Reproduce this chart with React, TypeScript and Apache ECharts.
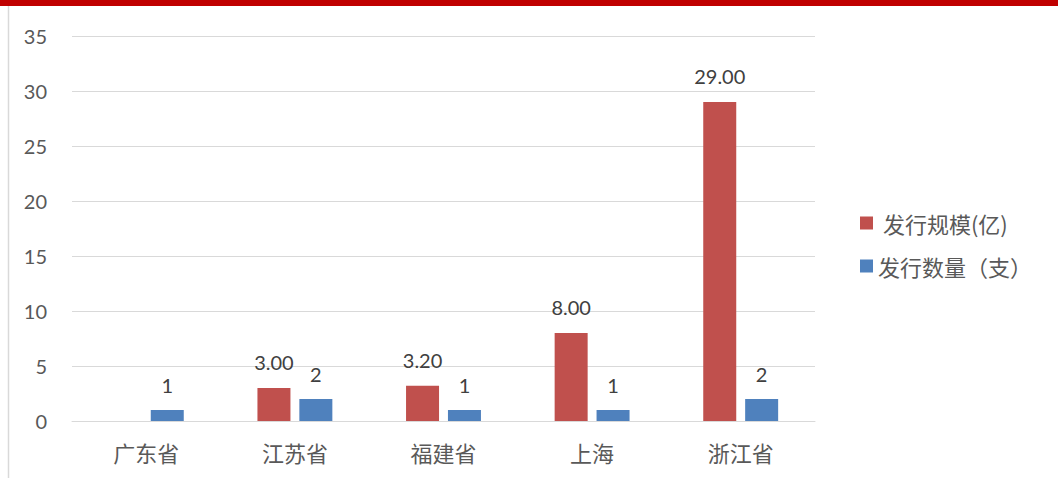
import React, { useEffect, useRef } from "react";
import * as echarts from "echarts";

const categories = ["广东省", "江苏省", "福建省", "上海", "浙江省"];
const scaleValues: (number | null)[] = [null, 3.0, 3.2, 8.0, 29.0];
const countValues = [1, 2, 1, 1, 2];
const seriesNames = ["发行规模(亿)", "发行数量（支）"];

const FONT = "Lato, 'Noto Sans CJK SC', sans-serif";
const CJK = "'Noto Sans CJK SC', sans-serif";

export default function App() {
  const ref = useRef<HTMLDivElement>(null);
  useEffect(() => {
    const chart = echarts.init(ref.current!, null, { renderer: "svg" });
    chart.setOption({
      animation: false,
      backgroundColor: "#ffffff",
      textStyle: { fontFamily: FONT },
      graphic: [
        { type: "rect", shape: { x: 0, y: 0, width: 1058, height: 6 }, style: { fill: "#c00000" } },
        { type: "line", shape: { x1: 8.5, y1: 6, x2: 8.5, y2: 478 }, style: { stroke: "#d9d9d9", lineWidth: 1.5 } },
      ],
      grid: { left: 72, right: 243, top: 36, bottom: 57, containLabel: false },
      legend: {
        orient: "vertical",
        left: 855,
        top: 207,
        itemWidth: 13,
        itemHeight: 13,
        itemGap: 21,
        icon: "rect",
        formatter: (name: string) => (name === seriesNames[0] ? " " + name : name),
        textStyle: { fontSize: 22, color: "#595959", fontFamily: CJK, padding: [0, 0, 0, 0] },
        data: seriesNames,
      },
      xAxis: {
        type: "category",
        data: categories,
        axisLine: { lineStyle: { color: "#d9d9d9", width: 1 } },
        axisTick: { show: false },
        axisLabel: { fontSize: 22, color: "#595959", margin: 20, fontFamily: CJK },
      },
      yAxis: {
        type: "value",
        min: 0,
        max: 35,
        interval: 5,
        axisLine: { show: false },
        axisTick: { show: false },
        axisLabel: { fontSize: 20, color: "#595959", margin: 25, fontFamily: FONT },
        splitLine: { lineStyle: { color: "#d9d9d9", width: 1 } },
      },
      series: [
        {
          name: seriesNames[0],
          type: "bar",
          data: scaleValues,
          barWidth: 33,
          barGap: "27%",
          itemStyle: { color: "#c0504d" },
          label: {
            show: true,
            position: "top",
            distance: 16,
            fontSize: 20,
            color: "#404040",
            fontFamily: FONT,
            formatter: (p: any) => (p.value == null ? "" : Number(p.value).toFixed(2)),
          },
        },
        {
          name: seriesNames[1],
          type: "bar",
          data: countValues,
          barWidth: 33,
          itemStyle: { color: "#4f81bd" },
          label: {
            show: true,
            position: "top",
            distance: 15,
            fontSize: 20,
            color: "#404040",
            fontFamily: FONT,
          },
        },
      ],
    });
    return () => chart.dispose();
  }, []);
  return (
    <div
      ref={ref}
      style={{ position: "fixed", left: 0, top: 0, width: 1058, height: 478 }}
    />
  );
}
